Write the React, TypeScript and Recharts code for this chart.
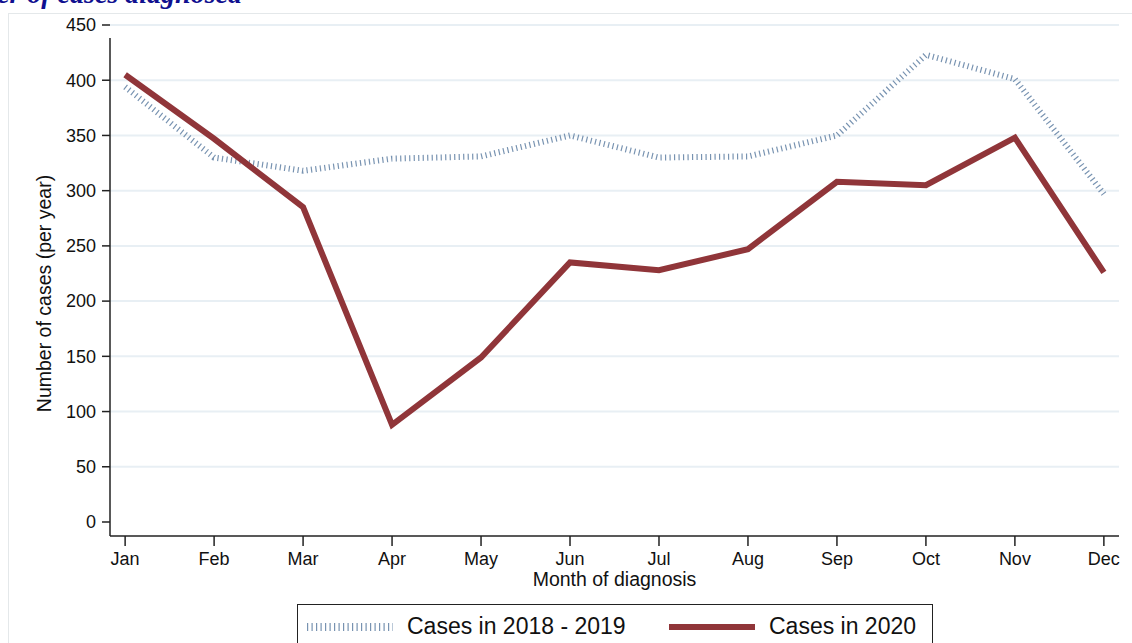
import React from "react";
import {
  CartesianGrid,
  Label,
  Legend,
  Line,
  LineChart,
  ReferenceLine,
  XAxis,
  YAxis,
} from "recharts";

const months = ["Jan", "Feb", "Mar", "Apr", "May", "Jun", "Jul", "Aug", "Sep", "Oct", "Nov", "Dec"];
const cases2018to2019 = [394, 330, 318, 329, 331, 350, 330, 331, 350, 423, 401, 297];
const cases2020 = [405, 347, 285, 88, 149, 235, 228, 247, 308, 305, 348, 226];
const yTicks = [0, 50, 100, 150, 200, 250, 300, 350, 400, 450];
const gridValues = [50, 100, 150, 200, 250, 300, 350, 400, 450];

const chartData = months.map((m, i) => ({
  idx: i,
  month: m,
  prior: cases2018to2019[i],
  current: cases2020[i],
}));

const BLUE = "#7893b1";
const RED = "#903539";
const FONT = "'Liberation Sans', Arial, sans-serif";

function LegendBox() {
  return (
    <div
      style={{
        boxSizing: "border-box",
        width: 636,
        height: 60,
        border: "1.5px solid #222",
        background: "#fff",
        fontFamily: FONT,
        fontSize: 23,
        lineHeight: "26px",
        color: "#111",
        position: "relative",
      }}
    >
      <svg width={90} height={20} style={{ position: "absolute", left: 7, top: 12 }}>
        <line x1={2} y1={10} x2={88} y2={10} stroke={BLUE} strokeWidth={8} strokeDasharray="1.2 3.3" />
      </svg>
      <span style={{ position: "absolute", left: 109, top: 8 }}>Cases in 2018 - 2019</span>
      <svg width={90} height={20} style={{ position: "absolute", left: 370, top: 12 }}>
        <line x1={1} y1={10} x2={87} y2={10} stroke={RED} strokeWidth={6} />
      </svg>
      <span style={{ position: "absolute", left: 471, top: 8 }}>Cases in 2020</span>
    </div>
  );
}

export default function App() {
  return (
    <div
      style={{
        position: "absolute",
        left: 0,
        top: 0,
        width: 1132,
        height: 643,
        overflow: "hidden",
        background: "#fff",
      }}
    >
      <div
        style={{
          position: "absolute",
          left: 8,
          top: 13,
          width: 1140,
          height: 700,
          border: "1px solid #e4e8ea",
        }}
      />
      <div
        style={{
          position: "absolute",
          left: -300,
          top: -20,
          width: 542,
          textAlign: "right",
          whiteSpace: "nowrap",
          fontFamily: "'Liberation Serif', 'Times New Roman', serif",
          fontWeight: "bold",
          fontStyle: "italic",
          fontSize: 28,
          lineHeight: 1,
          color: "#101090",
        }}
      >
        Number of cases diagnosed
      </div>
      <LineChart
        width={1132}
        height={643}
        data={chartData}
        margin={{ top: 25, right: 13, bottom: 77, left: 50 }}
        style={{ position: "absolute", left: 0, top: 0 }}
      >
        <CartesianGrid
          horizontal
          vertical={false}
          stroke="#e8eff4"
          strokeWidth={2}
          horizontalValues={gridValues}
        />
        <XAxis
          dataKey="idx"
          type="number"
          domain={[-0.17, 11.17]}
          ticks={months.map((_, i) => i)}
          tickFormatter={(v) => months[v]}
          allowDataOverflow
          height={30}
          tickSize={10}
          tickMargin={6}
          tick={{ fill: "#111", fontSize: 18, fontFamily: FONT }}
          axisLine={{ stroke: "#222", strokeWidth: 1.5 }}
          tickLine={{ stroke: "#222", strokeWidth: 1.5 }}
        >
          <Label
            content={({ viewBox }: any) => (
              <text
                x={viewBox.x + viewBox.width / 2}
                y={viewBox.y + 50}
                textAnchor="middle"
                fill="#111"
                fontSize={19.5}
                fontFamily={FONT}
              >
                Month of diagnosis
              </text>
            )}
          />
        </XAxis>
        <YAxis
          type="number"
          domain={[-12.68, 450]}
          ticks={yTicks}
          allowDataOverflow
          width={60}
          tickSize={8}
          tickMargin={6}
          tick={{ fill: "#111", fontSize: 18, fontFamily: FONT }}
          axisLine={false}
          tickLine={{ stroke: "#222", strokeWidth: 1.5 }}
        >
          <Label
            content={({ viewBox }: any) => {
              const cx = viewBox.x - 6;
              const cy = viewBox.y + viewBox.height / 2 + 13;
              return (
                <text
                  x={cx}
                  y={cy}
                  transform={`rotate(-90, ${cx}, ${cy})`}
                  textAnchor="middle"
                  dominantBaseline="central"
                  fill="#111"
                  fontSize={19.5}
                  fontFamily={FONT}
                >
                  Number of cases (per year)
                </text>
              );
            }}
          />
        </YAxis>
        <ReferenceLine
          segment={[
            { x: -0.17, y: -12.68 },
            { x: -0.17, y: 438.2 },
          ]}
          stroke="#222"
          strokeWidth={1.5}
          ifOverflow="visible"
        />
        <Line
          type="linear"
          dataKey="prior"
          stroke={BLUE}
          strokeWidth={6}
          strokeDasharray="1.2 3.3"
          dot={false}
          activeDot={false}
          isAnimationActive={false}
        />
        <Line
          type="linear"
          dataKey="current"
          stroke={RED}
          strokeWidth={6}
          dot={false}
          activeDot={false}
          isAnimationActive={false}
        />
        <Legend
          layout="horizontal"
          verticalAlign="middle"
          align="center"
          wrapperStyle={{ left: 297, top: 604, width: 636, height: 60 }}
          content={() => <LegendBox />}
        />
      </LineChart>
    </div>
  );
}
